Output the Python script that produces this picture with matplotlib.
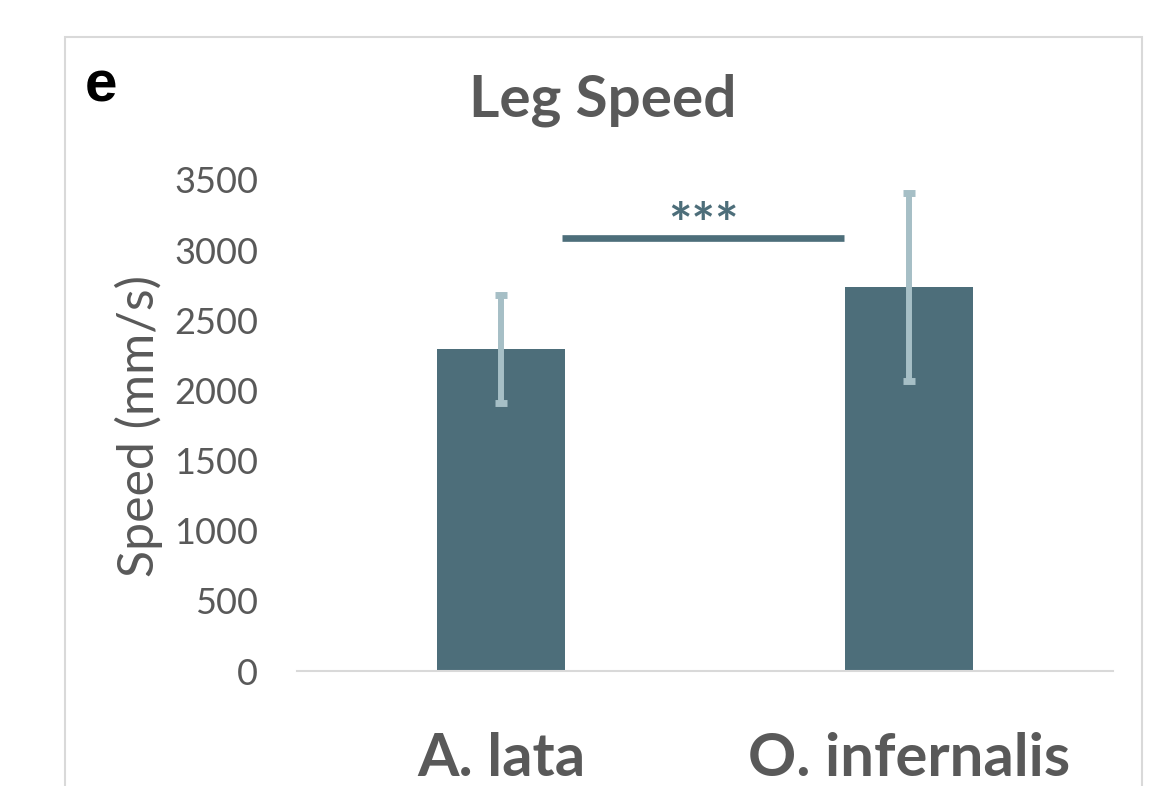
import matplotlib.pyplot as plt
from matplotlib.patches import Rectangle

species = ["A. lata", "O. infernalis"]
speed = [2295, 2737]
speed_err = [385, 672]
sig_label = "***"
sig_span = [0.15, 0.84]
sig_level = 3090
yticks = [0, 500, 1000, 1500, 2000, 2500, 3000, 3500]

bar_col = "#4d6e7a"
err_col = "#a6bfc6"
txt_col = "#595959"

plt.rcParams['font.family'] = ['Lato', 'DejaVu Sans']

fig = plt.figure(figsize=(11.72, 7.86), dpi=100)
ax = fig.add_axes([0.2534, 0.1463, 0.6963, 0.6247])

x = range(len(species))
ax.bar(x, speed, width=0.314, color=bar_col, zorder=2)
ax.errorbar(x, speed, yerr=speed_err, fmt="none", ecolor=err_col,
            elinewidth=4.3, capsize=4.5, capthick=5, zorder=3, clip_on=False)

# significance bar
ax.plot(sig_span, [sig_level, sig_level], color=bar_col, lw=4.8,
        solid_capstyle="butt", zorder=3, clip_on=False)
ax.text(sum(sig_span) / 2, sig_level + 75, sig_label, ha="center", va="center",
        fontsize=40, fontweight="bold", color=bar_col)

ax.set_xlim(-0.5, 1.5)
ax.set_ylim(0, 3500)
ax.set_yticks(yticks)
ax.set_xticks(list(x))
ax.set_xticklabels(species, fontsize=43, fontweight="bold", color=txt_col)
ax.tick_params(axis="y", labelsize=26, labelcolor=txt_col, length=0, pad=28)
ax.tick_params(axis="x", length=0, pad=44)

for s in ["top", "right", "left"]:
    ax.spines[s].set_visible(False)
ax.spines["bottom"].set_color("#d9d9d9")
ax.spines["bottom"].set_linewidth(1.5)

ax.set_ylabel("Speed (mm/s)", fontsize=36, color=txt_col, labelpad=8)
fig.text(603 / 1172, 1 - 100 / 786, "Leg Speed", fontsize=42, fontweight="bold",
         color=txt_col, ha="center", va="center")

fig.text(0.072, 0.890, "e", fontsize=42, fontweight="bold", color="black",
         family="Liberation Sans", ha="left", va="center")

# outer frame
fig.patches.append(Rectangle((65 / 1172, -0.1), (1142 - 65) / 1172, 1.1 - 37 / 786,
                             transform=fig.transFigure, fill=False,
                             edgecolor="#d9d9d9", lw=1.5))

fig.savefig("out.png", dpi=100)
